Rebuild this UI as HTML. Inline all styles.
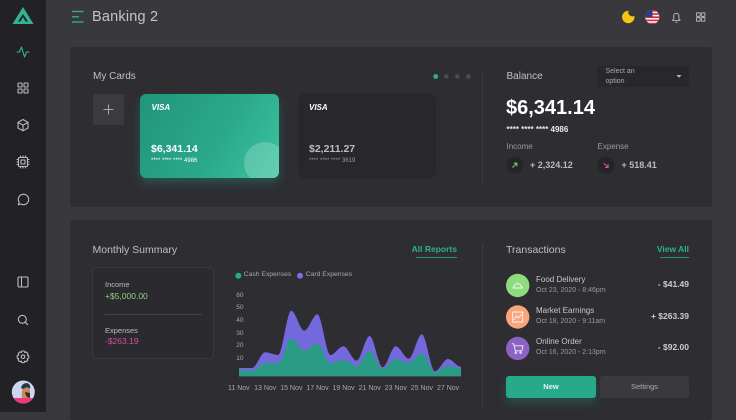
<!DOCTYPE html>
<html><head><meta charset="utf-8">
<style>
*{margin:0;padding:0;box-sizing:border-box}
html,body{width:736px;height:412px;overflow:hidden;background:#39383d;font-family:"Liberation Sans",sans-serif}
.a{position:absolute}
.t{position:absolute;white-space:nowrap;line-height:1}
</style></head><body>
<!-- sidebar -->
<div class="a" style="left:0;top:0;width:46px;height:412px;background:#222125"></div>
<!-- panels -->
<div class="a" style="left:70px;top:47px;width:642px;height:160px;background:#2e2d32;border-radius:3px"></div>
<div class="a" style="left:70px;top:220px;width:642px;height:200px;background:#2e2d32;border-radius:3px"></div>
<!-- plus button -->
<div class="a" style="left:93px;top:94px;width:31px;height:31px;background:#3b3a3f;border-radius:2px"></div>
<!-- green card -->
<div class="a" style="left:140px;top:94px;width:139px;height:84px;border-radius:6px;overflow:hidden;background:linear-gradient(120deg,#21957b 0%,#2aa889 55%,#3cc4a0 100%);box-shadow:0 5px 10px rgba(35,160,130,0.35)">
  <div class="a" style="left:104px;top:48px;width:42px;height:42px;border-radius:50%;background:rgba(255,255,255,0.2)"></div>
</div>
<!-- dark card -->
<div class="a" style="left:298px;top:94px;width:138px;height:84px;border-radius:6px;background:#28272b"></div>
<!-- select -->
<div class="a" style="left:597px;top:66px;width:92px;height:21px;background:#28272b;border-radius:2px"></div>
<!-- summary box -->
<div class="a" style="left:92px;top:267px;width:122px;height:92px;background:#2b2a2f;border:1px solid #3b3a3f;border-radius:4px"></div>
<div class="a" style="left:105px;top:314px;width:97px;height:1px;background:#444348"></div>
<!-- buttons -->
<div class="a" style="left:506px;top:376px;width:90px;height:22px;background:#27a98a;border-radius:3px;box-shadow:0 5px 10px rgba(35,160,130,0.3)"></div>
<div class="a" style="left:600px;top:376px;width:89px;height:22px;background:#3a393e;border-radius:3px"></div>
<!-- underlines -->
<div class="a" style="left:416px;top:257px;width:41px;height:1px;background:#2a8f77"></div>
<div class="a" style="left:660px;top:257px;width:29px;height:1px;background:#2a8f77"></div>
<!-- dividers -->
<div class="a" style="left:482px;top:70px;width:1px;height:113px;background:#3d3c41"></div>
<div class="a" style="left:482px;top:243px;width:1px;height:165px;background:#3d3c41"></div>

<svg class="a" style="left:0;top:0" width="736" height="412" viewBox="0 0 736 412">
  <!-- logo -->
  <polygon points="23,7 33.5,24 12.5,24" fill="#34b394"/>
  <polygon points="23,14 28,21.5 18,21.5" fill="#222125"/>
  <polygon points="23,17 25.5,21.5 20.5,21.5" fill="#34b394"/>
  <!-- sidebar icons -->
  <g fill="none" stroke="#bdbdbd" stroke-width="1.1" stroke-linecap="round" stroke-linejoin="round">
    <polyline points="17,52 19.5,52 21.5,47 24.5,57 26.5,52 29,52" stroke="#34b394"/>
    <rect x="18" y="83" width="4" height="4" rx="0.8"/><rect x="24" y="83" width="4" height="4" rx="0.8"/>
    <rect x="18" y="89" width="4" height="4" rx="0.8"/><rect x="24" y="89" width="4" height="4" rx="0.8"/>
    <path d="M23,119.5 L28,122.3 L28,128 L23,130.8 L18,128 L18,122.3 Z M18,122.3 L23,125.1 L28,122.3 M23,125.1 L23,130.8"/>
    <rect x="18.5" y="157.5" width="9" height="9" rx="1"/><rect x="21" y="160" width="4" height="4"/>
    <path d="M20.5,156 v1.5 M23,156 v1.5 M25.5,156 v1.5 M20.5,166.5 v1.5 M23,166.5 v1.5 M25.5,166.5 v1.5 M17,159.5 h1.5 M17,162 h1.5 M17,164.5 h1.5 M27.5,159.5 h1.5 M27.5,162 h1.5 M27.5,164.5 h1.5"/>
    <path d="M19.3,202.5 A5.2,5.2 0 1 1 21,204 L18.2,204.7 Z"/>
    <rect x="18" y="277" width="10" height="10" rx="1.2"/><line x1="21.5" y1="277" x2="21.5" y2="287"/>
    <circle cx="22.3" cy="319.3" r="4"/><line x1="25.2" y1="322.2" x2="27.7" y2="324.7"/>
    <circle cx="23" cy="356.7" r="1.8"/>
    <path d="M21.8,351 h2.4 l0.5,1.5 1.5,-0.6 1.7,1.7 -0.6,1.5 1.5,0.5 v2.4 l-1.5,0.5 0.6,1.5 -1.7,1.7 -1.5,-0.6 -0.5,1.5 h-2.4 l-0.5,-1.5 -1.5,0.6 -1.7,-1.7 0.6,-1.5 -1.5,-0.5 v-2.4 l1.5,-0.5 -0.6,-1.5 1.7,-1.7 1.5,0.6 Z"/>
  </g>
  <!-- avatar -->
  <defs><clipPath id="av"><circle cx="23.3" cy="392" r="11.5"/></clipPath></defs>
  <g clip-path="url(#av)">
    <rect x="10" y="380" width="27" height="25" fill="#cdd6ee"/>
    <rect x="10" y="398" width="27" height="8" fill="#ea3b7d"/>
    <path d="M22,398 Q21,390 24,387 Q29,386 30,391 L30,398 Z" fill="#c98a5a"/>
    <path d="M21,388 Q22,383 27,383 Q31,384 30,389 L27,387 L23,389 Z" fill="#233a44"/>
    <path d="M25,392 Q26,398 30,398 L30,393 Z" fill="#3a2a22"/>
  </g>
  <!-- header hamburger -->
  <g stroke="#2fae8f" stroke-width="1.4">
    <line x1="72" y1="11.5" x2="83.5" y2="11.5"/>
    <line x1="72" y1="16.8" x2="79" y2="16.8"/>
    <line x1="72" y1="22" x2="83.5" y2="22"/>
  </g>
  <!-- header right icons -->
  <defs><mask id="mn"><rect x="615" y="5" width="25" height="25" fill="#fff"/><circle cx="632.5" cy="12.2" r="4.2" fill="#000"/></mask></defs>
  <circle cx="628.3" cy="17" r="6.2" fill="#f5c518" mask="url(#mn)"/>
  <defs><clipPath id="fl"><circle cx="652.3" cy="17" r="7"/></clipPath></defs>
  <g clip-path="url(#fl)">
    <rect x="645" y="10" width="15" height="15" fill="#f2f2f2"/>
    <rect x="645" y="10" width="15" height="1.6" fill="#d8283a"/>
    <rect x="645" y="13.2" width="15" height="1.6" fill="#d8283a"/>
    <rect x="645" y="16.4" width="15" height="1.6" fill="#d8283a"/>
    <rect x="645" y="19.6" width="15" height="1.6" fill="#d8283a"/>
    <rect x="645" y="22.8" width="15" height="1.6" fill="#d8283a"/>
    <rect x="645" y="10" width="7.5" height="7" fill="#2b3c8f"/>
  </g>
  <g fill="none" stroke="#aaaaaa" stroke-width="1.1" stroke-linejoin="round">
    <path d="M672.5,20.5 h7.6 l-1.2,-1.6 v-3 a2.6,2.6 0 0 0 -5.2,0 v3 Z M675.3,22.3 h2"/>
    <rect x="696.5" y="12.8" width="3.6" height="3.6" rx="0.6"/><rect x="701.3" y="12.8" width="3.6" height="3.6" rx="0.6"/>
    <rect x="696.5" y="17.6" width="3.6" height="3.6" rx="0.6"/><rect x="701.3" y="17.6" width="3.6" height="3.6" rx="0.6"/>
  </g>
  <!-- plus -->
  <g stroke="#a8a8a8" stroke-width="1"><line x1="103.5" y1="109.5" x2="113.5" y2="109.5"/><line x1="108.5" y1="104.5" x2="108.5" y2="114.5"/></g>
  <!-- dots -->
  <circle cx="435.7" cy="76.5" r="2.4" fill="#2db08f"/>
  <circle cx="446.3" cy="76.5" r="2.4" fill="#4a494e"/>
  <circle cx="457.3" cy="76.5" r="2.4" fill="#4a494e"/>
  <circle cx="468.3" cy="76.5" r="2.4" fill="#4a494e"/>
  <!-- select caret -->
  <polygon points="676.5,75 681.5,75 679,77.8" fill="#bbbbbb"/>
  <!-- income/expense icons -->
  <circle cx="514.7" cy="165.3" r="8.5" fill="#252428"/>
  <circle cx="606" cy="165.3" r="8.5" fill="#252428"/>
  <g stroke="#7cc96b" stroke-width="1.1" fill="none"><line x1="512.5" y1="167.5" x2="516.8" y2="163.2"/><polyline points="513.8,163.2 516.8,163.2 516.8,166.2"/></g>
  <g stroke="#d94fa8" stroke-width="1.1" fill="none"><line x1="603.8" y1="163.1" x2="608.1" y2="167.4"/><polyline points="605.1,167.4 608.1,167.4 608.1,164.4"/></g>
  <!-- legend -->
  <circle cx="238.3" cy="275.7" r="3" fill="#2aa98a"/>
  <circle cx="300" cy="275.7" r="3" fill="#7a6fe8"/>
  <!-- chart -->
  <path fill="#7369dd" d="M239,376.3 L239,368 C243.35,368 247.71,368 252.06,368 S260.77,352.3 265.12,352.3 S273.83,355 278.18,355 S286.89,310.7 291.24,310.7 S299.95,330.7 304.3,330.7 S313.01,314.3 317.36,314.3 S326.07,355 330.42,355 S339.13,346.3 343.48,346.3 S352.19,360.7 356.54,360.7 S365.25,336 369.6,336 S378.31,367.3 382.66,367.3 S391.37,346.3 395.72,346.3 S404.43,358.7 408.78,358.7 S417.49,334.3 421.84,334.3 S430.55,371.3 434.9,371.3 S443.61,359 447.96,359 S456.67,366.7 461.02,366.7 L461.02,376.3 Z"/>
  <path fill="#2a9c86" d="M239,376.3 L239,370 C243.35,370 247.71,370.7 252.06,370.7 S260.77,362.7 265.12,362.7 S273.83,363.3 278.18,363.3 S286.89,338.3 291.24,338.3 S299.95,350.7 304.3,350.7 S313.01,343.3 317.36,343.3 S326.07,363.3 330.42,363.3 S339.13,360 343.48,360 S352.19,366 356.54,366 S365.25,350.7 369.6,350.7 S378.31,368.7 382.66,368.7 S391.37,358.7 395.72,358.7 S404.43,363.3 408.78,363.3 S417.49,353.3 421.84,353.3 S430.55,372 434.9,372 S443.61,366 447.96,366 S456.67,368 461.02,368 L461.02,376.3 Z"/>
  <!-- transaction icons -->
  <circle cx="517.7" cy="285.5" r="11.7" fill="#8fdb7f"/>
  <circle cx="517.7" cy="317" r="11.7" fill="#f7a57a"/>
  <circle cx="517.7" cy="348.5" r="11.7" fill="#8a63c4"/>
  <g fill="none" stroke="#ffffff" stroke-width="0.9" stroke-linejoin="round" opacity="0.9">
    <path d="M512.5,288 h10.4 M513.5,288 a4.2,4.2 0 0 1 8.4,0 M517.7,283.2 v-1"/>
    <rect x="512.7" y="312" width="10" height="10"/><polyline points="513.7,320 516.5,316 518.5,318 521.7,314"/>
    <path d="M511.8,343.8 h2 l1.5,7 h6.5 l1.3,-5 h-8.6"/><circle cx="515.8" cy="352.6" r="0.8"/><circle cx="520.6" cy="352.6" r="0.8"/>
  </g>
</svg>

<!-- header text -->
<div class="t" style="left:92px;top:9.8px;font-size:14.5px;color:#c4c4c4;letter-spacing:0.2px">Banking 2</div>

<!-- My Cards -->
<div class="t" style="left:93px;top:71.5px;font-size:10px;color:#c0c0c0">My Cards</div>
<div class="t" style="left:151.5px;top:104px;font-size:8px;color:#ffffff;font-weight:bold;font-style:italic">VISA</div>
<div class="t" style="left:151px;top:143.5px;font-size:10.5px;color:#ffffff;font-weight:bold">$6,341.14</div>
<div class="t" style="left:151px;top:158px;font-size:6px;color:#ffffff">**** **** **** 4986</div>
<div class="t" style="left:309px;top:104px;font-size:8px;color:#ffffff;font-weight:bold;font-style:italic">VISA</div>
<div class="t" style="left:309px;top:143.5px;font-size:10.5px;color:#bdbdbd;font-weight:bold">$2,211.27</div>
<div class="t" style="left:309px;top:158px;font-size:6px;color:#9a9a9a">**** **** **** 3619</div>

<!-- Balance -->
<div class="t" style="left:506.5px;top:71.5px;font-size:10px;color:#c0c0c0">Balance</div>
<div class="t" style="left:605.5px;top:67.8px;font-size:7px;color:#aaaaaa">Select an</div>
<div class="t" style="left:605.5px;top:78.2px;font-size:7px;color:#aaaaaa">option</div>
<div class="t" style="left:506px;top:98px;font-size:20px;color:#ffffff;font-weight:bold">$6,341.14</div>
<div class="t" style="left:506.5px;top:126px;font-size:8px;color:#e8e8e8;font-weight:bold">**** **** **** 4986</div>
<div class="t" style="left:506.5px;top:143px;font-size:8px;color:#9a9a9a">Income</div>
<div class="t" style="left:597.5px;top:143px;font-size:8px;color:#9a9a9a">Expense</div>
<div class="t" style="left:530px;top:160.8px;font-size:9px;color:#bbbbbb;font-weight:bold">+ 2,324.12</div>
<div class="t" style="left:621.5px;top:160.8px;font-size:9px;color:#bbbbbb;font-weight:bold">+ 518.41</div>

<!-- Monthly Summary -->
<div class="t" style="left:92.5px;top:244.5px;font-size:10.5px;color:#c0c0c0">Monthly Summary</div>
<div class="t" style="right:279px;top:245px;font-size:8.5px;color:#2db08f;font-weight:bold">All Reports</div>
<div class="t" style="left:105px;top:280.5px;font-size:7.5px;color:#bbbbbb">Income</div>
<div class="t" style="left:105px;top:291.8px;font-size:8.5px;color:#8fd07e">+$5,000.00</div>
<div class="t" style="left:105px;top:327px;font-size:7.5px;color:#bbbbbb">Expenses</div>
<div class="t" style="left:105px;top:337px;font-size:8.5px;color:#d4509f">-$263.19</div>

<div class="t" style="left:243.7px;top:272.3px;font-size:6.8px;color:#aaaaaa">Cash Expenses</div>
<div class="t" style="left:305.7px;top:272.3px;font-size:6.8px;color:#aaaaaa">Card Expenses</div>

<!-- y labels -->
<div class="t" style="right:492.5px;top:292.5px;font-size:6.5px;color:#a8a8a8">60</div>
<div class="t" style="right:492.5px;top:305px;font-size:6.5px;color:#a8a8a8">50</div>
<div class="t" style="right:492.5px;top:317.8px;font-size:6.5px;color:#a8a8a8">40</div>
<div class="t" style="right:492.5px;top:330.5px;font-size:6.5px;color:#a8a8a8">30</div>
<div class="t" style="right:492.5px;top:343px;font-size:6.5px;color:#a8a8a8">20</div>
<div class="t" style="right:492.5px;top:356px;font-size:6.5px;color:#a8a8a8">10</div>
<!-- x labels -->
<div class="t" style="left:228px;top:384.8px;font-size:7px;color:#a8a8a8">11 Nov</div>
<div class="t" style="left:254.1px;top:384.8px;font-size:7px;color:#a8a8a8">13 Nov</div>
<div class="t" style="left:280.2px;top:384.8px;font-size:7px;color:#a8a8a8">15 Nov</div>
<div class="t" style="left:306.4px;top:384.8px;font-size:7px;color:#a8a8a8">17 Nov</div>
<div class="t" style="left:332.5px;top:384.8px;font-size:7px;color:#a8a8a8">19 Nov</div>
<div class="t" style="left:358.6px;top:384.8px;font-size:7px;color:#a8a8a8">21 Nov</div>
<div class="t" style="left:384.7px;top:384.8px;font-size:7px;color:#a8a8a8">23 Nov</div>
<div class="t" style="left:410.8px;top:384.8px;font-size:7px;color:#a8a8a8">25 Nov</div>
<div class="t" style="left:437px;top:384.8px;font-size:7px;color:#a8a8a8">27 Nov</div>

<!-- Transactions -->
<div class="t" style="left:506px;top:244.5px;font-size:10.5px;color:#c0c0c0">Transactions</div>
<div class="t" style="right:47px;top:245px;font-size:8.5px;color:#2db08f;font-weight:bold">View All</div>
<div class="t" style="left:536px;top:276.3px;font-size:8px;color:#c8c8c8">Food Delivery</div>
<div class="t" style="left:536px;top:286.8px;font-size:7px;color:#9a9a9a">Oct 23, 2020 - 8:46pm</div>
<div class="t" style="left:536px;top:307.3px;font-size:8px;color:#c8c8c8">Market Earnings</div>
<div class="t" style="left:536px;top:317.8px;font-size:7px;color:#9a9a9a">Oct 18, 2020 - 9:11am</div>
<div class="t" style="left:536px;top:338.3px;font-size:8px;color:#c8c8c8">Online Order</div>
<div class="t" style="left:536px;top:348.8px;font-size:7px;color:#9a9a9a">Oct 16, 2020 - 2:13pm</div>
<div class="t" style="right:47px;top:280px;font-size:8.5px;color:#cccccc;font-weight:bold">- $41.49</div>
<div class="t" style="right:47px;top:311.5px;font-size:8.5px;color:#cccccc;font-weight:bold">+ $263.39</div>
<div class="t" style="right:47px;top:342.8px;font-size:8.5px;color:#cccccc;font-weight:bold">- $92.00</div>
<div class="t" style="left:506px;width:90px;text-align:center;top:383.3px;font-size:7.5px;color:#e8f5f1;font-weight:bold">New</div>
<div class="t" style="left:600px;width:89px;text-align:center;top:383.3px;font-size:7.5px;color:#aaaaaa">Settings</div>
</body></html>
